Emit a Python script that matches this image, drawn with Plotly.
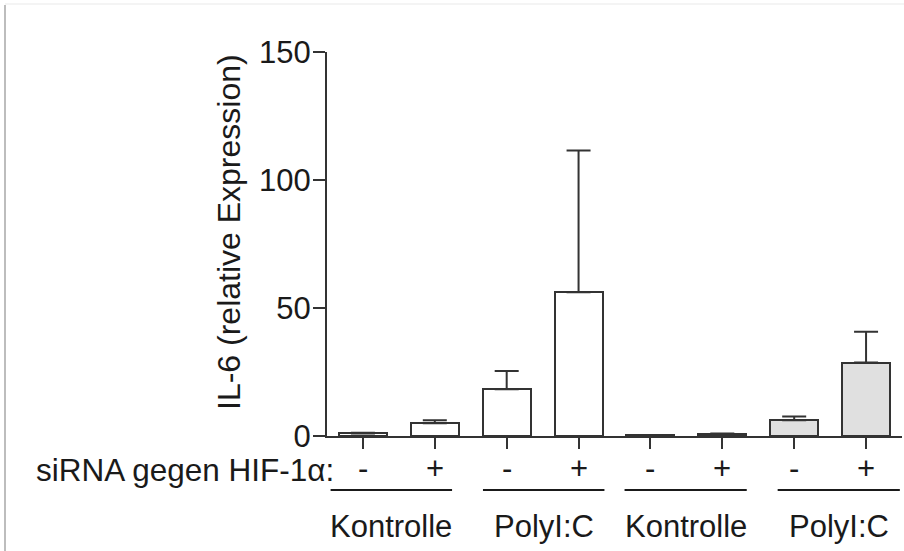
import plotly.graph_objects as go

# IL-6 relative expression, four groups x siRNA (-/+)
positions = [0, 1, 2, 3, 4, 5, 6, 7]
sirna_signs = ["-", "+", "-", "+", "-", "+", "-", "+"]
il6_mean = [1.0, 5.0, 18.3, 56.2, 0.3, 0.8, 6.2, 28.7]
il6_sem = [0.3, 1.2, 7.1, 55.3, 0.1, 0.2, 1.4, 12.0]
bar_fills = ["#ffffff"] * 4 + ["#e0e0e0"] * 4

group_names = ["Kontrolle", "PolyI:C", "Kontrolle", "PolyI:C"]
group_spans = [(-0.45, 1.24), (1.67, 3.36), (3.64, 5.34), (5.77, 7.47)]

y_ticks = [0, 50, 100, 150]

W, H = 904, 551
ML, MR, MT, MB = 327, 2, 52, 115
FONT = "Liberation Sans, Arial, Helvetica, sans-serif"
INK = "#1a1a1a"
LINE = "#333333"


def py(pix):
    """Convert a pixel row to paper y."""
    return (H - MB - pix) / (H - MT - MB)


def px(pix):
    """Convert a pixel column to paper x."""
    return (pix - ML) / (W - ML - MR)


fig = go.Figure()
fig.add_trace(go.Bar(
    x=positions,
    y=il6_mean,
    width=0.667,
    marker=dict(color=bar_fills, line=dict(color=LINE, width=2)),
    error_y=dict(type="data", array=il6_sem, arrayminus=[0] * len(il6_sem),
                 symmetric=False, color=LINE, thickness=2, width=12),
    showlegend=False,
))

annotations = []
# siRNA +/- row
for x, s in zip(positions, sirna_signs):
    annotations.append(dict(x=x, y=py(468), xref="x", yref="paper", text=s,
                            showarrow=False, xanchor="center", yanchor="middle",
                            font=dict(family=FONT, size=31, color=INK)))
annotations.append(dict(x=px(336), y=py(470), xref="paper", yref="paper",
                        text="siRNA gegen HIF-1α:", showarrow=False,
                        xanchor="right", yanchor="middle",
                        font=dict(family=FONT, size=31.5, color=INK)))

# y-axis title
annotations.append(dict(x=px(229), y=py(232), xref="paper", yref="paper",
                        text="IL-6 (relative Expression)", textangle=-90,
                        showarrow=False, xanchor="center", yanchor="middle",
                        font=dict(family=FONT, size=32, color=INK)))

shapes = []
for (x0, x1), name in zip(group_spans, group_names):
    shapes.append(dict(type="line", xref="x", yref="paper", x0=x0, x1=x1,
                       y0=py(490), y1=py(490), line=dict(color=INK, width=2)))
    annotations.append(dict(x=(x0 + x1) / 2, y=py(526), xref="x", yref="paper",
                            text=name, showarrow=False, xanchor="center",
                            yanchor="middle",
                            font=dict(family=FONT, size=31, color=INK)))

# thin frame lines along the page edge
shapes.append(dict(type="line", xref="paper", yref="paper", x0=px(5), x1=px(5),
                   y0=py(5), y1=py(551), line=dict(color="#bdbdbd", width=2)))
shapes.append(dict(type="line", xref="paper", yref="paper", x0=px(5), x1=px(904),
                   y0=py(4), y1=py(4), line=dict(color="#f0f0f0", width=1.5)))

fig.update_layout(
    width=W, height=H,
    margin=dict(l=ML, r=MR, t=MT, b=MB, pad=0),
    paper_bgcolor="white", plot_bgcolor="white",
    bargap=0,
    annotations=annotations,
    shapes=shapes,
    xaxis=dict(range=[-0.5, 7.5], tickvals=positions, ticktext=[""] * 8,
               ticks="outside", ticklen=11, tickwidth=2, tickcolor=LINE,
               showline=True, linecolor=LINE, linewidth=2,
               showgrid=False, zeroline=False, fixedrange=True),
    yaxis=dict(range=[0, 150], tickvals=y_ticks,
               ticks="outside", ticklen=12, tickwidth=2, tickcolor=LINE,
               ticklabelstandoff=-4,
               showline=True, linecolor=LINE, linewidth=2,
               showgrid=False, zeroline=False,
               tickfont=dict(family=FONT, size=31, color=INK)),
)

fig.write_html("out.html")
